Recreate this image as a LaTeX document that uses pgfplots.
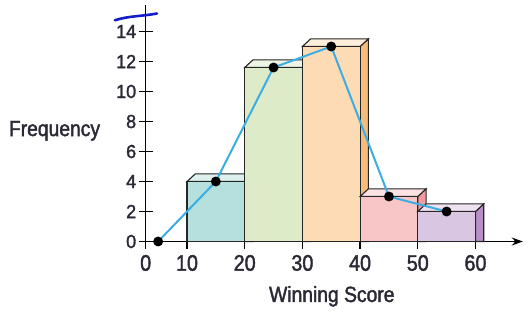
\documentclass[border=0pt]{standalone}
\usepackage{fontspec}
\setmainfont{Liberation Sans}
\newfontfamily\condfont[FakeStretch=0.88,FakeBold=1.8]{Liberation Sans}
\newfontfamily\tickfont[FakeStretch=0.95,FakeBold=1.6]{Liberation Sans}
\usepackage{pgfplots}
\pgfplotsset{compat=1.18}
\usetikzlibrary{arrows.meta}
\definecolor{txt}{HTML}{2A2A36}
\definecolor{edge}{HTML}{262626}
\definecolor{aF}{HTML}{B5E0DE}\definecolor{aT}{HTML}{DDF0EE}\definecolor{aS}{HTML}{8FCBC8}
\definecolor{bF}{HTML}{DDEBC9}\definecolor{bT}{HTML}{EEF5E4}\definecolor{bS}{HTML}{C2D9A0}
\definecolor{cF}{HTML}{FDDCB5}\definecolor{cT}{HTML}{FEEEDC}\definecolor{cS}{HTML}{F8BC7A}
\definecolor{dF}{HTML}{F8C6C6}\definecolor{dT}{HTML}{FCE2E2}\definecolor{dS}{HTML}{F09AA0}
\definecolor{eF}{HTML}{D9C6E2}\definecolor{eT}{HTML}{ECE2F0}\definecolor{eS}{HTML}{B98FC9}
\definecolor{poly}{HTML}{3AAEE2}
\definecolor{pen}{RGB}{20,30,200}
\begin{document}
\begin{tikzpicture}
\begin{axis}[
  scale only axis, width=377.1bp, height=236.55bp,
  xmin=2.84, xmax=68.2, ymin=0, ymax=15.77,
  axis x line=bottom, axis y line=left,
  x axis line style={line width=1.6bp, -{Stealth[length=11bp,width=8bp]}},
  y axis line style={line width=1.6bp, -},
  xtick={2.84,10,20,30,40,50,60}, xticklabels={0,10,20,30,40,50,60},
  ytick={0,2,...,14},
  tick align=center, major tick length=14bp,
  tick style={line width=1.4bp, black},
  /pgf/number format/assume math mode=true,
  xticklabel style={font=\condfont\fontsize{22.5}{22.5}\selectfont, text=txt, yshift=-3bp},
  yticklabel style={font=\tickfont\fontsize{19}{19}\selectfont, text=txt, xshift=1bp},
  clip=false,
]
% bar 10-20 : 4
\addplot[draw=edge, line width=1.1bp, fill=aS] coordinates {(20,0)(21.44,0)(21.44,4.51)(20,4)} -- cycle;
\addplot[draw=edge, line width=1.1bp, fill=aT] coordinates {(10,4)(20,4)(21.44,4.51)(11.44,4.51)} -- cycle;
\addplot[draw=edge, line width=1.1bp, fill=aF] coordinates {(10,0)(20,0)(20,4)(10,4)} -- cycle;
% bar 20-30 : 11.6
\addplot[draw=edge, line width=1.1bp, fill=bS] coordinates {(30,0)(31.44,0)(31.44,12.11)(30,11.6)} -- cycle;
\addplot[draw=edge, line width=1.1bp, fill=bT] coordinates {(20,11.6)(30,11.6)(31.44,12.11)(21.44,12.11)} -- cycle;
\addplot[draw=edge, line width=1.1bp, fill=bF] coordinates {(20,0)(30,0)(30,11.6)(20,11.6)} -- cycle;
% bar 30-40 : 13
\addplot[draw=edge, line width=1.1bp, fill=cS] coordinates {(40,0)(41.44,0)(41.44,13.51)(40,13)} -- cycle;
\addplot[draw=edge, line width=1.1bp, fill=cT] coordinates {(30,13)(40,13)(41.44,13.51)(31.44,13.51)} -- cycle;
\addplot[draw=edge, line width=1.1bp, fill=cF] coordinates {(30,0)(40,0)(40,13)(30,13)} -- cycle;
% bar 40-50 : 3
\addplot[draw=edge, line width=1.1bp, fill=dS] coordinates {(50,0)(51.44,0)(51.44,3.51)(50,3)} -- cycle;
\addplot[draw=edge, line width=1.1bp, fill=dT] coordinates {(40,3)(50,3)(51.44,3.51)(41.44,3.51)} -- cycle;
\addplot[draw=edge, line width=1.1bp, fill=dF] coordinates {(40,0)(50,0)(50,3)(40,3)} -- cycle;
% bar 50-60 : 2
\addplot[draw=edge, line width=1.1bp, fill=eS] coordinates {(60,0)(61.44,0)(61.44,2.51)(60,2)} -- cycle;
\addplot[draw=edge, line width=1.1bp, fill=eT] coordinates {(50,2)(60,2)(61.44,2.51)(51.44,2.51)} -- cycle;
\addplot[draw=edge, line width=1.1bp, fill=eF] coordinates {(50,0)(60,0)(60,2)(50,2)} -- cycle;
% frequency polygon
\addplot[line width=2bp, color=poly, mark=*, mark size=3.9bp,
  mark options={fill=black, draw=black}]
  coordinates {(5,0)(15,4)(25,11.6)(35,13)(45,3)(55,2)};
% pen stroke
\draw[pen, line width=2.6bp, line cap=round]
  (axis cs:-2.5,14.75) .. controls (axis cs:0,15.05) and (axis cs:2,15.0) .. (axis cs:4.8,15.2);
\node[anchor=base, font=\condfont\fontsize{22}{22}\selectfont, text=txt] at (axis cs:35.1,-4.03) {Winning Score};
\node[anchor=base, font=\condfont\fontsize{22}{22}\selectfont, text=txt] at (axis cs:-12.96,7.03) {Frequency};
\path (axis cs:-22.41,-4.97) rectangle (axis cs:69.45,16.1);
\end{axis}
\end{tikzpicture}
\end{document}
